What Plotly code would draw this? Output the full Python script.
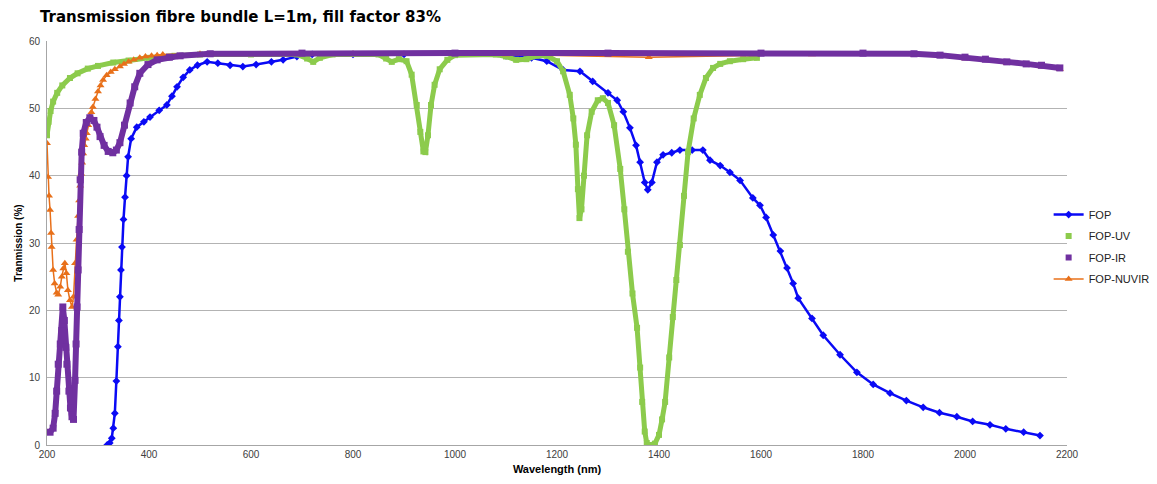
import plotly.graph_objects as go

# ---- data ----
fop_wl = [318, 323, 327, 330, 333, 336, 339, 341, 343, 345, 347, 350, 353, 356, 359, 365, 376, 390, 402, 420,
          435, 445, 455, 467, 480, 495, 514, 535, 559, 584, 610, 640, 663, 690, 720, 800, 900, 1000, 1100, 1150,
          1180, 1212, 1245, 1270, 1300, 1318, 1330, 1343, 1355, 1363, 1372, 1378, 1386, 1396, 1408, 1425, 1441,
          1465, 1486, 1500, 1520, 1539, 1559, 1584, 1598, 1610, 1624, 1638, 1651, 1663, 1673, 1700, 1722, 1755,
          1788, 1820, 1853, 1885, 1918, 1950, 1984, 2015, 2049, 2080, 2115, 2147]
fop_t = [0.0, 0.3, 1.0, 2.5, 4.7, 9.5, 14.6, 18.5, 22.0, 26.0, 29.4, 33.5, 36.8, 40.0, 42.8, 45.5, 47.2, 48.0,
         48.7, 49.7, 50.5, 51.8, 53.2, 54.6, 55.7, 56.4, 56.9, 56.7, 56.4, 56.2, 56.5, 56.9, 57.2, 57.7, 58.0,
         58.0, 58.0, 58.0, 57.8, 57.5, 57.0, 55.7, 55.5, 54.0, 52.3, 51.2, 49.5, 47.1, 44.5, 42.0, 39.0, 37.9,
         39.0, 42.0, 43.1, 43.4, 43.8, 43.8, 43.8, 42.3, 41.5, 40.5, 39.3, 36.7, 35.6, 33.8, 31.2, 28.8, 26.3,
         24.0, 21.8, 18.8, 16.3, 13.4, 10.8, 9.0, 7.7, 6.6, 5.6, 4.8, 4.2, 3.5, 3.0, 2.4, 1.9, 1.4]

uv_wl = [200, 203, 207, 212, 220, 230, 245, 260, 280, 300, 330, 360, 400, 450, 500, 600, 690, 710, 722, 735,
         760, 850, 865, 876, 890, 905, 915, 925, 932, 938, 942, 947, 953, 960, 970, 985, 1000, 1080, 1100, 1120,
         1140, 1160, 1180, 1200, 1212, 1225, 1232, 1237, 1241, 1244, 1248, 1253, 1259, 1268, 1280, 1290, 1300,
         1312, 1324, 1332, 1339, 1348, 1357, 1363, 1367, 1372, 1376, 1382, 1392, 1400, 1406, 1412, 1420, 1427,
         1434, 1441, 1449, 1457, 1468, 1480, 1492, 1506, 1520, 1539, 1565, 1592]
uv_t = [46.0, 48.0, 49.6, 51.0, 52.3, 53.4, 54.5, 55.2, 55.9, 56.3, 56.8, 57.1, 57.5, 57.8, 58.0, 58.0, 58.0,
        57.4, 56.9, 57.5, 58.0, 58.0, 57.4, 56.9, 57.3, 57.0, 55.0, 50.5, 46.5, 43.6, 43.5, 46.0, 50.5, 53.5,
        55.8, 57.2, 57.9, 58.0, 57.7, 57.2, 57.3, 57.8, 57.8, 57.0, 55.5, 52.0, 48.5, 44.6, 38.0, 33.7, 35.0,
        40.0, 46.0, 49.5, 51.2, 51.5, 50.8, 47.5, 41.0, 35.0, 28.7, 22.5, 17.4, 11.5, 6.4, 2.0, 0.3, 0.0, 0.2,
        1.5, 3.8, 6.4, 13.0, 19.0, 24.5, 29.7, 37.0, 43.5, 48.5, 52.0, 54.5, 56.0, 56.6, 57.0, 57.3, 57.5]

ir_wl = [206, 212, 216, 219, 222, 226, 229, 231, 234, 237, 239, 243, 246, 249, 252, 255, 257, 259, 261, 263,
         265, 268, 271, 277, 284, 292, 298, 304, 312, 320, 329, 336, 343, 352, 363, 372, 382, 398, 416, 440,
         461, 520, 700, 1000, 1300, 1600, 1800, 1900, 1951, 2000, 2040, 2082, 2120, 2150, 2186]
ir_t = [1.9, 2.5, 4.7, 8.0, 12.0, 15.0, 17.0, 20.5, 18.5, 14.5, 12.0, 8.0, 5.5, 4.2, 3.8, 9.6, 15.0, 20.5,
        26.0, 32.0, 39.4, 43.5, 46.3, 47.9, 48.6, 48.2, 47.2, 45.8, 44.5, 43.6, 43.4, 43.8, 44.9, 47.5, 50.8,
        53.2, 55.2, 56.5, 57.2, 57.6, 57.8, 58.1, 58.2, 58.2, 58.2, 58.2, 58.2, 58.1, 57.9, 57.6, 57.3, 56.9,
        56.6, 56.4, 56.0]

nuvir_wl = [200, 202, 204, 206, 208, 209, 212, 215, 219, 222, 226, 229, 232, 235, 238, 241, 245, 249, 252, 255,
            258, 261, 263, 265, 267, 269, 271, 273, 276, 278, 281, 284, 287, 290, 295, 300, 305, 310, 317, 325,
            333, 343, 351, 360, 370, 382, 393, 405, 416, 427, 500, 800, 1100, 1380, 1700, 1900, 2000, 2082, 2150,
            2186]
nuvir_t = [44.8, 39.8, 37.0, 34.9, 31.5, 29.4, 26.0, 24.0, 22.6, 22.3, 23.5, 25.0, 26.2, 27.0, 25.5, 23.0, 21.5,
           20.5, 22.0, 27.0, 30.5, 34.0, 36.3, 38.5, 40.3, 41.9, 43.3, 44.5, 45.5, 46.3, 47.5, 48.5, 49.4, 50.2,
           51.4, 52.5, 53.4, 54.2, 54.9, 55.4, 55.8, 56.2, 56.6, 56.9, 57.2, 57.5, 57.7, 57.8, 57.9, 58.0, 58.1,
           58.1, 58.0, 57.6, 58.0, 57.9, 57.4, 56.7, 56.2, 55.8]

x_ticks = [200, 400, 600, 800, 1000, 1200, 1400, 1600, 1800, 2000, 2200]
y_ticks = [0, 10, 20, 30, 40, 50, 60]

BLUE = "#0A0AF5"
GREEN = "#8CCB4C"
PURPLE = "#7030A0"
ORANGE = "#E8701A"

fig = go.Figure()

# drawn traces (bottom to top)
fig.add_trace(go.Scatter(x=fop_wl, y=fop_t, mode="lines+markers", name="FOP", legendgroup="fop",
                         line=dict(color=BLUE, width=2.5),
                         marker=dict(symbol="diamond", size=6, color=BLUE),
                         legendrank=1))
fig.add_trace(go.Scatter(x=uv_wl, y=uv_t, mode="lines+markers", name="FOP-UV", showlegend=False,
                         legendgroup="uv",
                         line=dict(color=GREEN, width=5),
                         marker=dict(symbol="square", size=6, color=GREEN)))
fig.add_trace(go.Scatter(x=nuvir_wl, y=nuvir_t, mode="lines+markers", name="FOP-NUVIR", legendgroup="nuvir",
                         line=dict(color=ORANGE, width=1.5),
                         marker=dict(symbol="triangle-up", size=7, color=ORANGE),
                         legendrank=4))
fig.add_trace(go.Scatter(x=ir_wl, y=ir_t, mode="lines+markers", name="FOP-IR", showlegend=False,
                         legendgroup="ir",
                         line=dict(color=PURPLE, width=6),
                         marker=dict(symbol="square", size=7, color=PURPLE)))
# legend-only entries (marker only, as in the reference legend)
fig.add_trace(go.Scatter(x=[None], y=[None], mode="markers", name="FOP-UV", legendgroup="uv",
                         marker=dict(symbol="square", size=6, color=GREEN), legendrank=2))
fig.add_trace(go.Scatter(x=[None], y=[None], mode="markers", name="FOP-IR", legendgroup="ir",
                         marker=dict(symbol="square", size=6, color=PURPLE), legendrank=3))

# the page body adds an 8px offset; figure is sized to compensate
fig.update_layout(
    width=1149, height=476,
    margin=dict(l=39, r=90, t=33, b=39, autoexpand=False),
    paper_bgcolor="white", plot_bgcolor="white",
    title=dict(text="<b>Transmission fibre bundle L=1m, fill factor 83%</b>",
               x=32 / 1149, xref="container", xanchor="left",
               y=1 - 9 / 476, yref="container", yanchor="middle",
               font=dict(family="DejaVu Sans", size=15, color="black")),
    showlegend=True,
    legend=dict(x=0.982, xanchor="left", y=0.49, yanchor="middle",
                font=dict(family="Liberation Sans", size=11, color="#222222"),
                bgcolor="rgba(0,0,0,0)", itemwidth=30, tracegroupgap=2.5,
                traceorder="grouped"),
    font=dict(family="Liberation Sans Narrow, Liberation Sans, Arial", color="#404040"),
)

fig.update_xaxes(range=[200, 2200], tickvals=x_ticks, ticktext=[str(v) for v in x_ticks],
                 showgrid=False, zeroline=False, automargin=False,
                 showline=True, linecolor="#A6A6A6", linewidth=1,
                 tickfont=dict(size=10, color="#404040"),
                 title=dict(text="<b>Wavelength (nm)</b>", standoff=6,
                            font=dict(family="Liberation Sans", size=11, color="black")))
fig.update_yaxes(range=[0, 60], tickvals=y_ticks, ticktext=[str(v) for v in y_ticks],
                 showgrid=True, gridcolor="#B3B3B3", gridwidth=1, zeroline=False, automargin=False,
                 showline=True, linecolor="#A6A6A6", linewidth=1,
                 tickfont=dict(size=10, color="#404040"), ticklabelstandoff=4,
                 title=dict(text="<b>Tranmission (%)</b>", standoff=4,
                            font=dict(family="Liberation Sans", size=10, color="black")))

fig.write_html("out.html")
